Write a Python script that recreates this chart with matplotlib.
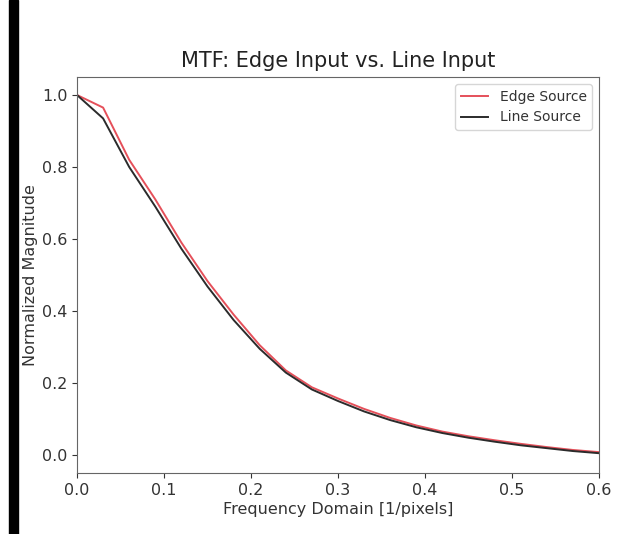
import matplotlib
matplotlib.use("Agg")
import matplotlib.pyplot as plt
from matplotlib.patches import Rectangle

freq = [0.0, 0.03, 0.06, 0.09, 0.12, 0.15, 0.18, 0.21, 0.24, 0.27, 0.30,
        0.33, 0.36, 0.39, 0.42, 0.45, 0.48, 0.51, 0.54, 0.57, 0.60]
edge_mtf = [1.0, 0.965, 0.82, 0.71, 0.59, 0.483, 0.39, 0.305, 0.235, 0.188, 0.157,
            0.128, 0.103, 0.082, 0.065, 0.052, 0.041, 0.031, 0.022, 0.014, 0.008]
line_mtf = [1.0, 0.935, 0.80, 0.69, 0.573, 0.468, 0.375, 0.295, 0.229, 0.182, 0.150,
            0.121, 0.097, 0.077, 0.061, 0.048, 0.037, 0.027, 0.019, 0.011, 0.005]

plt.rcParams['font.family'] = ['DejaVu Sans']
fig = plt.figure(figsize=(6.29, 5.34), dpi=100)
ax = fig.add_axes([77/629, 1-473/534, (599-77)/629, (473-77)/534])

ax.plot(freq, edge_mtf, color='#e5505a', lw=1.4, label='Edge Source')
ax.plot(freq, line_mtf, color='#2b2b2b', lw=1.4, label='Line Source')

ax.set_xlim(0, 0.6)
ax.set_ylim(-0.05, 1.05)
ax.set_xticks([0.0, 0.1, 0.2, 0.3, 0.4, 0.5, 0.6])
ax.set_yticks([0.0, 0.2, 0.4, 0.6, 0.8, 1.0])
ax.tick_params(labelsize=11.5, colors='#333333')
for s in ax.spines.values():
    s.set_color('#666666')
ax.set_title('MTF: Edge Input vs. Line Input', fontsize=15, color='#222222', pad=7)
ax.set_xlabel('Frequency Domain [1/pixels]', fontsize=11.5, color='#333333', labelpad=3)
ax.set_ylabel('Normalized Magnitude', fontsize=11.5, color='#333333', labelpad=3)
leg = ax.legend(loc='upper right', fontsize=10, handlelength=2.0)
for t in leg.get_texts():
    t.set_color('#333333')

fig.add_artist(Rectangle((9/629, 0), 9/629, 1, transform=fig.transFigure,
                         color='black', zorder=10))
fig.savefig('out.png', dpi=100)
